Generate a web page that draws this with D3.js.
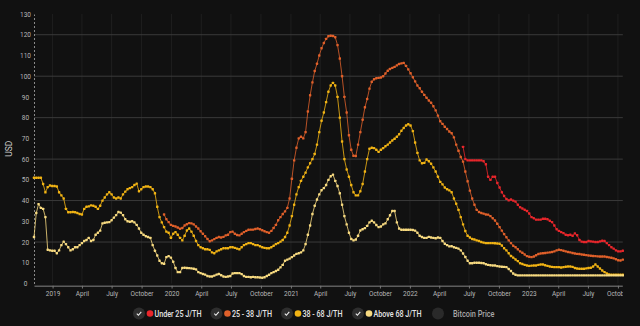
<!DOCTYPE html>
<html>
<head>
<meta charset="utf-8">
<script src="https://cdn.jsdelivr.net/npm/d3@7"></script>
<style>
  html, body { margin: 0; padding: 0; background: #111111; }
  svg { display: block; }
</style>
</head>
<body>
<svg id="chart" width="640" height="326"></svg>
<script>
// ---------------- DATA ----------------
const firstWeek = "2018-11-05";   // weekly observations
const weekCount = 259;

const seriesNames = ["Under 25 J/TH", "25 - 38 J/TH", "38 - 68 J/TH", "Above 68 J/TH"];
const seriesColors = ["#e8262b", "#e0602a", "#f2b414", "#f7da80"];

// first week index at which each series begins
const under25Start = 188;
const from25to38Start = 57;
const from38to68Start = 0;
const above68Start = 0;

const under25Values = [
  65.9, 60, 59.4, 59.4, 59.4, 59.4, 59.4, 59.4, 59.4, 59, 57.5, 51.5, 50, 51.5, 51.5, 48.5, 46.3, 44, 42.2, 40.8,
  40.1, 40.5, 40, 39.5, 38, 36.8, 36.2, 35.6, 35, 33.8, 32, 31.5, 30.8, 30.8, 30.8, 31.2, 31.2, 31, 30.3, 29.6,
  28, 26.2, 25.4, 24.8, 24.3, 23.5, 23.3, 23.5, 23, 24.2, 23.3, 21, 20.2, 20, 20, 20.5, 20.3, 20.2, 20, 20,
  20.3, 20.6, 20.5, 19.5, 18.5, 17.5, 16.8, 16, 15.5, 15.5, 15.8
];

const from25to38Values = [
  33.3, 31, 29.6, 28.3, 27.8, 27.5, 27, 26.4, 26.8, 28, 28.6, 29.1, 29, 28.5, 27.5, 26.5, 25.2, 24, 22.8, 21.5,
  20.4, 20.8, 21.4, 22, 22.4, 22.2, 22.5, 23.2, 23.5, 24.8, 25, 24, 23.4, 23.2, 24, 24.8, 25.4, 25.9, 26, 26,
  26.3, 26.5, 26.2, 25.7, 25.2, 24.8, 24.5, 25.4, 26.8, 28.3, 30.5, 32, 33.5, 34.8, 36.5, 41, 50.5, 59.4, 65.5, 70,
  70.8, 70, 73, 83, 90.8, 97, 102.5, 106, 110, 113.5, 116, 118, 119.3, 119.5, 119.4, 118.8, 115, 108.5, 100, 90,
  82.5, 71.5, 64.5, 61.6, 61.5, 67, 73, 79, 85, 89, 94, 97.3, 98.5, 99, 99.2, 99.4, 100, 101.3, 102.6, 103.5,
  104, 104.5, 105.2, 105.9, 106.2, 106.4, 105, 103.3, 101.4, 99.5, 97.5, 95.5, 94.2, 92.5, 91, 89.6, 88.3, 87.2, 85.5, 83.5,
  81, 78.3, 77, 75.6, 74.5, 73.3, 72.5, 70.5, 67, 64, 61, 58.8, 54, 49.3, 44.8, 41, 38, 35.5, 34.5, 34,
  33.7, 33.3, 33.2, 32.5, 31.5, 30.4, 28.8, 27.2, 25.5, 23.8, 22.3, 20.8, 19.5, 18.2, 17.5, 16.5, 15.5, 14.8, 14, 13.2,
  12.9, 12.7, 13, 13.6, 14.2, 14.5, 14.6, 14.7, 14.9, 15, 15.2, 15.5, 16, 16.3, 16.1, 15.8, 15.5, 15.2, 15, 14.7,
  14.5, 14.3, 14.2, 14, 13.9, 13.7, 13.5, 13.4, 13.3, 13.2, 13.1, 13, 13, 13, 12.8, 12.6, 12.4, 12.1, 11.7, 11.2,
  11.1, 11.5
];

const from38to68Values = [
  51, 51, 51, 51, 48, 44, 46.5, 47.3, 47, 47, 46.8, 44, 42.5, 41, 36, 34.4, 34.4, 34.5, 34.4, 34,
  33.5, 33.3, 36, 37, 37.2, 37.7, 37.5, 37, 36, 37.5, 40, 41.5, 43, 44, 43, 41.5, 41, 41.5, 41, 43,
  44.3, 45.5, 46, 46.5, 47.5, 48.2, 44.5, 45.5, 46.5, 46.8, 46.8, 46.5, 45.5, 43.5, 37, 32, 29.5, 27.2, 25, 24.5,
  22, 24, 24.8, 23.5, 22, 20.8, 23, 25.6, 26.5, 25, 23, 20.5, 18.5, 17.5, 17, 16.5, 16.5, 16.2, 15, 14.6,
  15.5, 16, 16.5, 17, 17, 17, 17.5, 17.5, 17.2, 16.8, 16.5, 17.5, 18.5, 19, 19.5, 19.5, 19, 18.5, 18.5, 18,
  17.5, 17.2, 17, 17, 17.5, 18.2, 19, 19.5, 20.2, 21, 22.4, 24.5, 28, 32.5, 38, 43, 46.5, 49.5, 51.5, 53.5,
  56, 58, 60, 62.5, 67, 73, 78.5, 82.5, 87.5, 92.5, 95.5, 96.8, 95.5, 90, 80, 68.5, 60, 55, 51.5, 47.5,
  44, 42.5, 42.5, 44.5, 48, 54, 60, 65, 65.5, 65.3, 64.5, 63.5, 64.5, 65.3, 66.2, 67, 68, 69, 69.8, 70.8,
  72, 73.7, 75, 76.2, 76.8, 76.2, 73.5, 68, 63, 59.4, 58, 58.2, 59.8, 59, 57.8, 56, 54, 51.5, 49, 47.8,
  46.3, 45.5, 44.9, 44, 41, 38.5, 35.5, 32, 28.5, 25.3, 23, 22.2, 21.5, 21.2, 20.8, 20.5, 20, 19.7, 19.5, 19.5,
  19.5, 19.5, 19.4, 19.3, 19.2, 18.3, 17, 16, 14.6, 13.3, 12.5, 11.6, 10.8, 9.8, 9.4, 9, 8.7, 8.5, 8.6, 8.7,
  8.7, 9, 9.2, 9.2, 8.8, 8.5, 8.2, 8, 7.9, 7.9, 7.9, 7.7, 7.9, 8.1, 8.2, 8.2, 8, 7.5, 7.2, 7.1,
  7.1, 7.1, 7.3, 7.5, 7.6, 8.2, 9.2, 8.2, 7.2, 6.3, 5.5, 4.8, 4.4, 4.3, 4.3, 4.3, 4.3, 4.3, 4.3
];

const above68Values = [
  22.4, 34, 38.3, 36.5, 36, 32, 16.3, 16, 15.8, 15.8, 14.6, 16, 18.5, 20.2, 19, 17.5, 16, 16.5, 17.5, 17.5,
  18.5, 19.5, 20.5, 21, 22, 20.5, 21, 23.5, 24.5, 25.5, 29, 29.3, 29.5, 29.6, 30.5, 31.8, 33, 34.5, 34.2, 33,
  31, 30, 29.8, 30, 29.5, 28.3, 26.5, 24.5, 23.5, 22.8, 22.4, 22, 18.5, 15.8, 13.5, 11, 9.8, 9.5, 12.7, 13.2,
  12.5, 10.5, 7.5, 5.5, 5.5, 7.5, 7.6, 7.5, 7.4, 7.3, 7.1, 6.8, 5.5, 5, 4.6, 4.3, 3.6, 3.4, 3.4, 3.8,
  4.3, 4.6, 4, 3.4, 3.2, 3.4, 3.6, 4.8, 5, 5, 5, 4.5, 3.6, 3.2, 3.2, 3, 3.2, 3, 3, 2.9,
  2.8, 3, 3.6, 4.2, 5, 5.5, 6, 6.6, 7.8, 9, 11, 11.5, 12, 12.7, 13.5, 14.3, 14.6, 15, 16, 19,
  23.5, 28, 33.5, 37.5, 40.5, 43, 45, 46, 47.5, 50, 51.7, 52.5, 49.5, 47, 43.5, 38, 32.5, 28.5, 24.5, 21.5,
  20.8, 21.2, 23, 25.6, 26.2, 26.7, 27.8, 29.5, 30.3, 29.5, 28.2, 27.2, 27.5, 28.5, 29, 31, 32.9, 35, 35, 29.5,
  26.5, 25.9, 25.9, 25.9, 25.9, 25.9, 25.8, 25.5, 24.5, 23, 22.4, 22, 22, 22.5, 22.2, 22, 21.8, 22.2, 22, 20.5,
  19.2, 18.5, 17.9, 18, 17.5, 17.2, 16.8, 16, 14.5, 12.8, 11, 9.8, 9.8, 10, 10, 10, 9.9, 9.8, 9.3, 9,
  8.8, 8.7, 8.7, 8.4, 8.2, 8.1, 8, 7.9, 7, 6, 4.8, 4.2, 3.9, 3.9, 3.9, 3.9, 3.9, 3.9, 3.9, 3.9,
  3.9, 3.9, 3.9, 3.9, 3.9, 3.9, 3.9, 3.9, 3.9, 3.9, 3.9, 3.9, 3.9, 3.9, 3.9, 3.9, 3.9, 3.9, 3.9, 3.9,
  3.9, 3.9, 3.9, 3.9, 3.9, 3.9, 3.9, 3.9, 3.9, 3.9, 3.9, 3.9, 3.9, 3.9, 3.9, 3.9, 3.9, 3.9, 3.9
];

const yTickValues = [0, 10, 20, 30, 40, 50, 60, 70, 80, 90, 100, 110, 120, 130];
const yGridValues = [20, 40, 60, 80, 100, 120];
const xTickDates = ["2019-01-01","2019-04-01","2019-07-01","2019-10-01","2020-01-01","2020-04-01","2020-07-01","2020-10-01",
  "2021-01-01","2021-04-01","2021-07-01","2021-10-01","2022-01-01","2022-04-01","2022-07-01","2022-10-01",
  "2023-01-01","2023-04-01","2023-07-01","2023-10-01"];
const xTickLabels = ["2019","April","July","October","2020","April","July","October",
  "2021","April","July","October","2022","April","July","October",
  "2023","April","July","October"];

// ---------------- CHART ----------------
const svg = d3.select("#chart");
const W = 640, H = 326;
const m = { left: 34, right: 17.2, top: 14, bottom: 42.5 };
const FONT = "Roboto, 'Liberation Sans', sans-serif";
const parse = d3.utcParse("%Y-%m-%d");
const t0 = parse(firstWeek);
const weekDates = d3.range(weekCount).map(i => d3.utcDay.offset(t0, 7 * i));

const x = d3.scaleUtc().domain([weekDates[0], weekDates[weekCount - 1]]).range([m.left, W - m.right]);
const y = d3.scaleLinear().domain([0, 130]).range([H - m.bottom, m.top]);

svg.append("rect").attr("width", W).attr("height", H).attr("fill", "#111111");

svg.append("defs").append("clipPath").attr("id", "xclip")
  .append("rect").attr("x", 0).attr("y", 0).attr("width", W - m.right).attr("height", H);

// vertical faint grid
svg.append("g").selectAll("line").data(xTickDates).join("line")
  .attr("x1", d => x(parse(d))).attr("x2", d => x(parse(d)))
  .attr("y1", m.top).attr("y2", y(0))
  .attr("stroke", "#1f1f1f").attr("stroke-width", 1);

// horizontal grid
svg.append("g").selectAll("line").data(yGridValues).join("line")
  .attr("x1", m.left).attr("x2", W - m.right)
  .attr("y1", d => y(d)).attr("y2", d => y(d))
  .attr("stroke", "#3a3a3a").attr("stroke-width", 1);

// y axis (dashed)
const yAxis = d3.axisLeft(y).tickValues(yTickValues).tickSize(0).tickPadding(0);
const gy = svg.append("g").attr("transform", `translate(${m.left},0)`).call(yAxis);
gy.select(".domain").attr("stroke", "#8a8a8a").attr("stroke-dasharray", "2,2").attr("stroke-width", 1);
gy.selectAll("text").attr("x", -8.5).attr("text-anchor", "middle")
  .attr("fill", "#b8b8b8").attr("font-size", 6.5).attr("font-family", FONT);

// x axis
const xAxis = d3.axisBottom(x).tickValues(xTickDates.map(parse))
  .tickFormat((d, i) => xTickLabels[i]).tickSize(3).tickPadding(2.5).tickSizeOuter(0);
const gx = svg.append("g").attr("transform", `translate(0,${y(0) + 2})`).attr("clip-path", "url(#xclip)").call(xAxis);
gx.select(".domain").attr("stroke", "#777").attr("stroke-width", 1.5);
gx.selectAll(".tick line").attr("stroke", "#777");
gx.selectAll("text").attr("fill", "#b8b8b8").attr("font-size", 6.5).attr("font-family", FONT);

// y label
svg.append("text").attr("transform", `translate(11.5,${(m.top + y(0)) / 2}) rotate(-90)`)
  .attr("text-anchor", "middle").attr("fill", "#d0d0d0").attr("font-size", 8.5)
  .attr("font-family", FONT).text("USD");

// series
const allSeries = [
  { name: seriesNames[0], color: seriesColors[0], start: under25Start, values: under25Values },
  { name: seriesNames[1], color: seriesColors[1], start: from25to38Start, values: from25to38Values },
  { name: seriesNames[2], color: seriesColors[2], start: from38to68Start, values: from38to68Values },
  { name: seriesNames[3], color: seriesColors[3], start: above68Start, values: above68Values }
];
const drawOrder = [0, 1, 2, 3];
const line = d3.line().x(d => x(d.date)).y(d => y(d.v));

drawOrder.forEach(k => {
  const s = allSeries[k];
  const pts = s.values.map((v, i) => ({ date: weekDates[s.start + i], v }));
  const g = svg.append("g");
  g.append("path").datum(pts).attr("d", line).attr("fill", "none")
    .attr("stroke", s.color).attr("stroke-width", 1).attr("stroke-opacity", 0.8);
  g.selectAll("rect").data(pts).join("rect")
    .attr("x", d => x(d.date) - 1.2).attr("y", d => y(d.v) - 1.2)
    .attr("width", 2.4).attr("height", 2.4).attr("rx", 0.6)
    .attr("fill", s.color);
});

// legend
const legendItems = [
  { label: seriesNames[0], color: seriesColors[0], cx: 139, on: true, w: 47 },
  { label: seriesNames[1], color: seriesColors[1], cx: 216.5, on: true, w: 40 },
  { label: seriesNames[2], color: seriesColors[2], cx: 287, on: true, w: 40 },
  { label: seriesNames[3], color: seriesColors[3], cx: 358, on: true, w: 48 },
  { label: "Bitcoin Price", color: null, cx: 438, on: false, w: 41.5 }
];
const ly = 313.5;
const lg = svg.append("g");
legendItems.forEach(it => {
  const g = lg.append("g");
  if (it.on) {
    g.append("circle").attr("cx", it.cx).attr("cy", ly).attr("r", 6).attr("fill", "#2e2e2e");
    g.append("path").attr("d", `M${it.cx - 2.2},${ly + 0.2} L${it.cx - 0.6},${ly + 1.8} L${it.cx + 2.3},${ly - 1.6}`)
      .attr("fill", "none").attr("stroke", "#f0f0f0").attr("stroke-width", 1.1);
    g.append("circle").attr("cx", it.cx + 11).attr("cy", ly).attr("r", 3.3).attr("fill", it.color);
    g.append("text").attr("x", it.cx + 15.5).attr("y", ly + 3.2)
      .attr("fill", "#e6e6e6").attr("font-size", 8.5).attr("font-weight", 500)
      .attr("textLength", it.w).attr("lengthAdjust", "spacingAndGlyphs")
      .attr("font-family", FONT).text(it.label);
  } else {
    g.append("circle").attr("cx", it.cx).attr("cy", ly).attr("r", 6).attr("fill", "#2a2a2a");
    g.append("text").attr("x", it.cx + 15).attr("y", ly + 3.2)
      .attr("fill", "#a8a8a8").attr("font-size", 8.5).attr("font-weight", 500)
      .attr("textLength", it.w).attr("lengthAdjust", "spacingAndGlyphs")
      .attr("font-family", FONT).text(it.label);
  }
});
</script>
</body>
</html>
